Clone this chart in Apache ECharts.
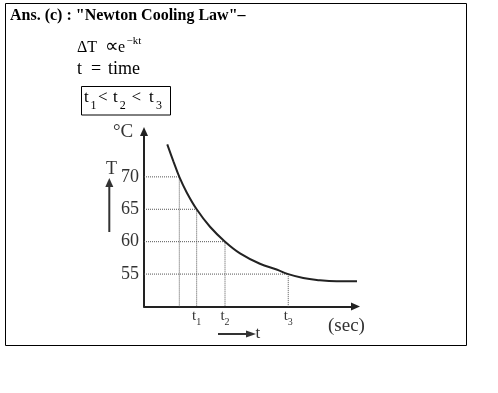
<!DOCTYPE html>
<html><head><meta charset="utf-8">
<script src="https://cdn.jsdelivr.net/npm/echarts@6/dist/echarts.min.js"></script>
<style>html,body{margin:0;padding:0;background:#fff}#c{width:498px;height:393px}</style>
</head><body><div id="c"></div>
<script>
// ---- data ----
const curveTimes = [1.10, 1.39, 1.67, 2.02, 2.49, 3.12, 3.83, 4.54, 5.48, 6.27, 6.82, 7.53, 8.17, 9.11, 10.18];
const curveTemps = [75.0, 72.4, 70, 67.6, 65, 62.3, 60, 58.2, 56.6, 55.7, 55, 54.4, 54.1, 53.9, 53.9];
const guideTimes = [1.67, 2.49, 3.83, 6.82];
const guideTemps = [70, 65, 60, 55];
const yTickValues = [55, 60, 65, 70];
const xTickValues = [2.49, 3.83, 6.82];
const xTickSubs = ['1', '2', '3'];
const yMin = 50, yMax = 77, xMin = 0, xMax = 10;

const FONT = '"Liberation Serif", "Times New Roman", serif';
const INK = '#222';
const chart = echarts.init(document.getElementById('c'), null, {renderer: 'canvas'});

const guideSeries = guideTimes.map((t, i) => ({
  type: 'line', silent: true, symbol: 'none', animation: false,
  data: [[xMin, guideTemps[i]], [t, guideTemps[i]], [t, yMin]],
  lineStyle: {color: '#555', width: 1, type: [1, 1]}, z: 1
}));

function txt(x, y, text, size, opts) {
  return {
    type: 'text', x: x, y: y, silent: true,
    style: Object.assign({text: text, font: size + 'px ' + FONT, fill: '#000',
      align: 'left', verticalAlign: 'middle'}, opts || {})
  };
}

chart.setOption({
  animation: false,
  backgroundColor: '#fff',
  grid: {left: 144, right: 142.5, top: 131.5, bottom: 86.5, containLabel: false},
  xAxis: {
    type: 'value', min: xMin, max: xMax,
    splitLine: {show: false},
    axisTick: {show: false},
    axisLine: {lineStyle: {color: INK, width: 2}, symbol: ['none', 'triangle'], symbolSize: [8, 9]},
    axisLabel: {
      customValues: xTickValues, margin: 2,
      formatter: v => '{t|t}{s|' + xTickSubs[xTickValues.indexOf(v)] + '}',
      rich: {
        t: {fontFamily: FONT, fontSize: 15, color: '#333', lineHeight: 15},
        s: {fontFamily: FONT, fontSize: 10, color: '#333', lineHeight: 15, padding: [13, 0, 0, 0]}
      }
    }
  },
  yAxis: {
    type: 'value', min: yMin, max: yMax,
    splitLine: {show: false},
    axisTick: {show: false},
    axisLine: {show: true, lineStyle: {color: INK, width: 2}, symbol: ['none', 'triangle'], symbolSize: [8, 9]},
    axisLabel: {
      customValues: yTickValues, margin: 5,
      fontFamily: FONT, fontSize: 18, color: '#333'
    }
  },
  series: guideSeries.concat([{
    type: 'line', symbol: 'none', smooth: 0.4, clip: false,
    data: curveTimes.map((t, i) => [t, curveTemps[i]]),
    lineStyle: {color: INK, width: 2}, z: 3
  }]),
  graphic: [
    {type: 'rect', silent: true, shape: {x: 5.5, y: 3.5, width: 461, height: 342},
     style: {fill: 'none', stroke: '#000', lineWidth: 1}},
    txt(10, 16.3, 'Ans. (c) : "Newton Cooling Law"\u2013', 16, {font: 'bold 16px ' + FONT}),
    // ΔT ∝ e^-kt
    txt(77, 47.3, '\u0394T', 16),
    txt(104.5, 47.3, '\u221D', 19),
    txt(118, 47.3, 'e', 16),
    txt(126.5, 41.3, '\u2212kt', 11),
    // t = time
    txt(77, 68.9, 't', 18),
    txt(91, 68.9, '=', 18),
    txt(108, 68.9, 'time', 18),
    // boxed t1 < t2 < t3
    {type: 'rect', silent: true, shape: {x: 81.5, y: 86.5, width: 89, height: 28.5},
     style: {fill: 'none', stroke: '#000', lineWidth: 1}},
    txt(84, 97.5, 't', 17), txt(90.5, 105.9, '1', 12),
    txt(98, 97.5, '<', 17),
    txt(113, 97.5, 't', 17), txt(119.8, 105.9, '2', 12),
    txt(131.5, 97.5, '<', 17),
    txt(149, 97.5, 't', 17), txt(156, 105.9, '3', 12),
    // axis decorations
    txt(113, 132.5, '\u00B0C', 19, {fill: '#333'}),
    txt(106, 169, 'T', 18, {fill: '#333'}),
    {type: 'line', silent: true, shape: {x1: 109.3, y1: 232, x2: 109.3, y2: 184},
     style: {stroke: '#333', lineWidth: 2}},
    {type: 'polygon', silent: true, shape: {points: [[109.3, 178], [105.3, 187], [113.3, 187]]},
     style: {fill: '#333'}},
    txt(328, 326, '(sec)', 19, {fill: '#333'}),
    {type: 'line', silent: true, shape: {x1: 218, y1: 334, x2: 247, y2: 334},
     style: {stroke: '#333', lineWidth: 2}},
    {type: 'polygon', silent: true, shape: {points: [[256, 334], [246, 330.5], [246, 337.5]]},
     style: {fill: '#333'}},
    txt(255.5, 333.2, 't', 17, {fill: '#333'})
  ]
});
</script>
</body></html>
